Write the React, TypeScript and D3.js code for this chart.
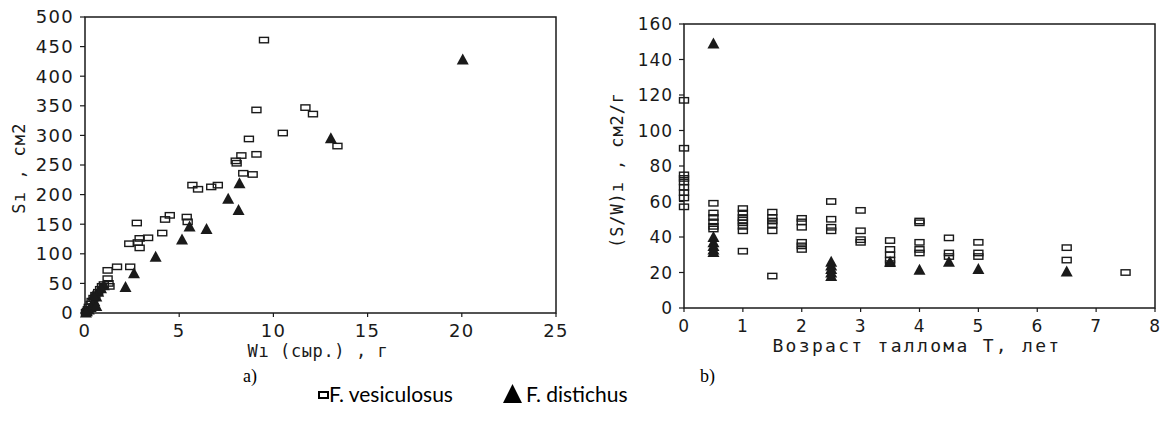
import React from "react";
import * as d3 from "d3";

// ---- Panel a) data: S_i (cm2) vs W_i (raw, g)
const vesW = [9.5, 9.1, 10.5, 8.7, 9.1, 8.3, 8.0, 8.05, 8.4, 8.9, 11.7, 12.1, 13.4, 5.7, 6.0, 6.7, 7.05, 5.4, 5.45, 4.25, 4.5, 4.1, 2.75, 2.35, 2.8, 2.9, 3.35, 2.9, 2.4, 1.2, 1.7, 1.2, 1.25, 1.3, 1.0, 0.9, 0.8, 0.7, 0.55, 0.45, 0.35, 0.3, 0.2, 0.15, 0.1, 0.05];
const vesS = [461, 343, 304, 294, 268, 266, 257, 253, 236, 234, 347, 336, 282, 216, 209, 213, 216, 162, 154, 158, 165, 135, 152, 117, 119, 126, 127, 110, 78, 72, 78, 58, 50, 45, 48, 45, 40, 35, 30, 25, 20, 15, 10, 6, 3, 1];
const disW = [20.05, 13.05, 8.2, 7.6, 8.15, 5.55, 6.45, 5.15, 3.75, 2.6, 2.15, 1.0, 0.85, 0.7, 0.6, 0.5, 0.4, 0.3, 0.2, 0.1, 0.05, 0.6, 0.45];
const disS = [428, 295, 219, 193, 174, 146, 142, 124, 95, 67, 44, 47, 42, 36, 28, 20, 15, 10, 6, 3, 1, 12, 30];

// ---- Panel b) data: (S/W)_i (cm2/g) vs thallus age T (years)
const vesT = [0, 0, 0, 0, 0, 0, 0, 0, 0,
  0.5, 0.5, 0.5, 0.5, 0.5, 0.5,
  1, 1, 1, 1, 1, 1, 1, 1,
  1.5, 1.5, 1.5, 1.5, 1.5, 1.5,
  2, 2, 2, 2, 2, 2,
  2.5, 2.5, 2.5, 2.5,
  3, 3, 3, 3,
  3.5, 3.5, 3.5, 3.5, 3.5,
  4, 4, 4, 4, 4,
  4.5, 4.5, 4.5,
  5, 5, 5,
  6.5, 6.5,
  7.5];
const vesR = [117, 90, 75, 73, 71, 68, 65, 62, 57,
  59, 53.5, 51, 48.5, 46, 44.5,
  56, 53.5, 51, 49.5, 48, 46, 43.5, 32,
  54, 51, 49, 47, 43.5, 18,
  50.5, 48.5, 45.5, 37, 35, 33,
  60, 50, 45.5, 43.5,
  55, 43.5, 38.5, 37,
  38, 33, 30, 27, 25,
  49, 48, 37, 33, 31,
  39.5, 31, 29,
  37, 31, 29,
  34, 27,
  20];
const disT = [0.5, 0.5, 0.5, 0.5, 0.5, 0.5, 2.5, 2.5, 2.5, 2.5, 2.5, 3.5, 4, 4.5, 5, 6.5];
const disR = [149, 40, 37, 35, 33, 31.5, 26, 24, 22, 20, 18, 26, 21.5, 26, 22, 20.5];

const aTicksX = [0, 5, 10, 15, 20, 25];
const aTicksY = [0, 50, 100, 150, 200, 250, 300, 350, 400, 450, 500];
const bTicksX = [0, 1, 2, 3, 4, 5, 6, 7, 8];
const bTicksY = [0, 20, 40, 60, 80, 100, 120, 140, 160];

const INK = "#1a1a1a";
const MONO = "'DejaVu Sans Mono', monospace";
const SANS = "'DejaVu Sans', sans-serif";

function Square({ x, y }: { x: number; y: number }) {
  return <rect x={x - 4.5} y={y - 2.7} width={9} height={5.4} fill="none" stroke={INK} strokeWidth={1.4} />;
}
function Tri({ x, y }: { x: number; y: number }) {
  return <path d={`M${x - 6},${y + 5}L${x},${y - 6}L${x + 6},${y + 5}Z`} fill={INK} />;
}

function Panel({ x, y, xT, yT, fs, ls, vx, vy, dx, dy }: any) {
  const [x0, x1] = x.range();
  const [y0, y1] = y.range();
  return (
    <g>
      <rect x={x0} y={y1} width={x1 - x0} height={y0 - y1} fill="none" stroke={INK} strokeWidth={1.5} />
      {xT.map((t: number) => (
        <g key={"x" + t}>
          <line x1={x(t)} x2={x(t)} y1={y0} y2={y0 + 4} stroke={INK} strokeWidth={1.2} />
          <text x={x(t)} y={y0 + 24} textAnchor="middle" fontFamily={SANS} fontSize={fs} letterSpacing={ls} fill={INK}>{t}</text>
        </g>
      ))}
      {yT.map((t: number) => (
        <g key={"y" + t}>
          <line x1={x0 - 5} x2={x0} y1={y(t)} y2={y(t)} stroke={INK} strokeWidth={1.2} />
          <text x={x0 - 11} y={y(t)} dy="0.36em" textAnchor="end" fontFamily={SANS} fontSize={fs} letterSpacing={ls} fill={INK}>{t}</text>
        </g>
      ))}
      {vx.map((v: number, i: number) => <Square key={"s" + i} x={x(v)} y={y(vy[i])} />)}
      {dx.map((v: number, i: number) => <Tri key={"t" + i} x={x(v)} y={y(dy[i])} />)}
    </g>
  );
}

export default function App() {
  const ax = d3.scaleLinear().domain([0, 25]).range([85, 556]);
  const ay = d3.scaleLinear().domain([0, 500]).range([313, 17]);
  const bx = d3.scaleLinear().domain([0, 8]).range([684, 1155]);
  const by = d3.scaleLinear().domain([0, 160]).range([308, 24]);
  return (
    <svg width={1161} height={421} style={{ position: "absolute", left: 0, top: 0, background: "#fff" }}>
      <rect width={1161} height={421} fill="#fff" />
      <Panel x={ax} y={ay} xT={aTicksX} yT={aTicksY} fs={18} ls={1.3} vx={vesW} vy={vesS} dx={disW} dy={disS} />
      <Panel x={bx} y={by} xT={bTicksX} yT={bTicksY} fs={17} ls={0.9} vx={vesT} vy={vesR} dx={disT} dy={disR} />
      {/* axis titles */}
      <text x={318} y={357} textAnchor="middle" fontFamily={MONO} fontSize={17} letterSpacing={0.6} fill={INK}>Wı (сыр.) , г</text>
      <text transform="translate(25,168) rotate(-90)" textAnchor="middle" fontFamily={MONO} fontSize={17} letterSpacing={1.2} fill={INK}>Sı , см2</text>
      <text x={917} y={352} textAnchor="middle" fontFamily={MONO} fontSize={18} letterSpacing={2.3} fill={INK}>Возраст таллома T, лет</text>
      <text transform="translate(623,170) rotate(-90)" textAnchor="middle" fontFamily={MONO} fontSize={17} letterSpacing={0.9} fill={INK}>(S/W)ı , см2/г</text>
      {/* panel labels */}
      <text x={243} y={382} fontFamily="'Liberation Serif', serif" fontSize={18} fill="#000">a)</text>
      <text x={700} y={382} fontFamily="'Liberation Serif', serif" fontSize={18} fill="#000">b)</text>
      {/* legend */}
      <rect x={319} y={392} width={9} height={6} fill="none" stroke="#000" strokeWidth={2} />
      <text x={329} y={402} fontFamily="Lato, sans-serif" fontSize={21} fill="#000">F. vesiculosus</text>
      <path d="M503,403L512.5,384L522,403Z" fill="#000" />
      <text x={526} y={402} fontFamily="Lato, sans-serif" fontSize={21} fill="#000">F. distichus</text>
    </svg>
  );
}
